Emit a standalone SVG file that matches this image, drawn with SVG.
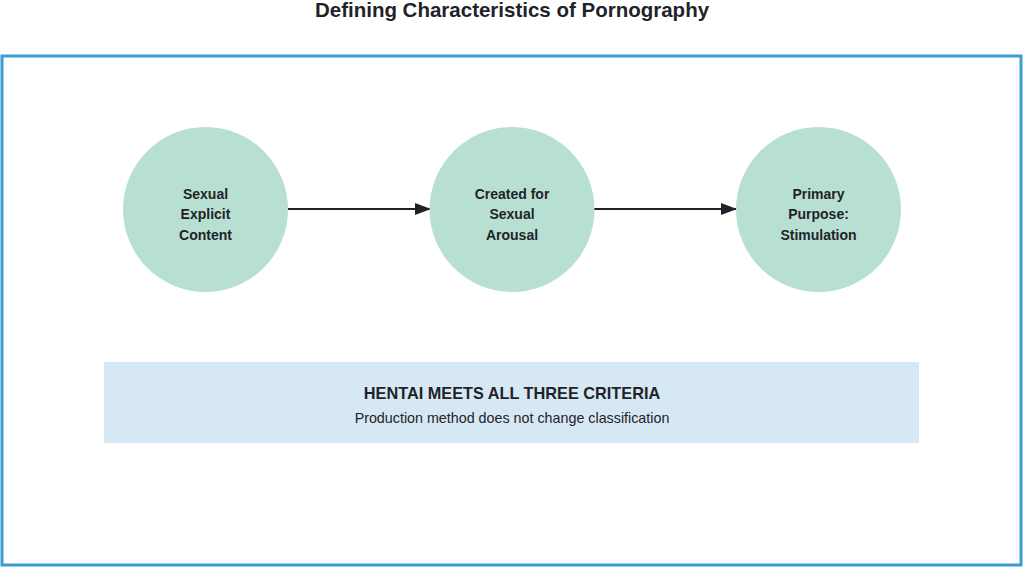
<svg xmlns="http://www.w3.org/2000/svg" width="1024" height="568" viewBox="0 0 1024 568">
<defs>
<style>
text{font-family:"Liberation Sans",Arial,sans-serif;fill:#1f2329;text-anchor:middle}
.title{font-size:20.5px;font-weight:bold}
.node{fill:#b8e0d2}
.nt{font-size:14px;font-weight:bold}
.conn{stroke:#1f2329;stroke-width:2;fill:none}
.h{font-size:16.3px;font-weight:bold}
.s{font-size:14.3px}
</style>
<marker id="arr" viewBox="0 0 16 12" refX="16" refY="6" markerWidth="16" markerHeight="12" markerUnits="userSpaceOnUse" orient="auto">
<path d="M0,0 L16,6 L0,12 Z" fill="#1f2329"/>
</marker>
</defs>
<rect width="1024" height="568" fill="#ffffff"/>
<text class="title" x="512" y="17">Defining Characteristics of Pornography</text>
<rect x="2" y="56" width="1019" height="509" fill="#ffffff" stroke="#3a9fd0" stroke-width="3"/>
<g id="connectors">
<line class="conn" x1="288" y1="209" x2="431" y2="209" marker-end="url(#arr)"/>
<line class="conn" x1="594" y1="209" x2="737" y2="209" marker-end="url(#arr)"/>
</g>
<g id="node1">
<circle class="node" cx="205.5" cy="209.5" r="82.5"/>
<text class="nt" x="205.5" y="199">Sexual</text>
<text class="nt" x="205.5" y="219">Explicit</text>
<text class="nt" x="205.5" y="240">Content</text>
</g>
<g id="node2">
<circle class="node" cx="512" cy="209.5" r="82.5"/>
<text class="nt" x="512" y="199">Created for</text>
<text class="nt" x="512" y="219">Sexual</text>
<text class="nt" x="512" y="240">Arousal</text>
</g>
<g id="node3">
<circle class="node" cx="818.5" cy="209.5" r="82.5"/>
<text class="nt" x="818.5" y="199">Primary</text>
<text class="nt" x="818.5" y="219">Purpose:</text>
<text class="nt" x="818.5" y="240">Stimulation</text>
</g>
<g id="summary">
<rect x="104" y="362" width="815" height="81" fill="#d6e8f4"/>
<text class="h" x="512" y="399">HENTAI MEETS ALL THREE CRITERIA</text>
<text class="s" x="512" y="423">Production method does not change classification</text>
</g>
</svg>
